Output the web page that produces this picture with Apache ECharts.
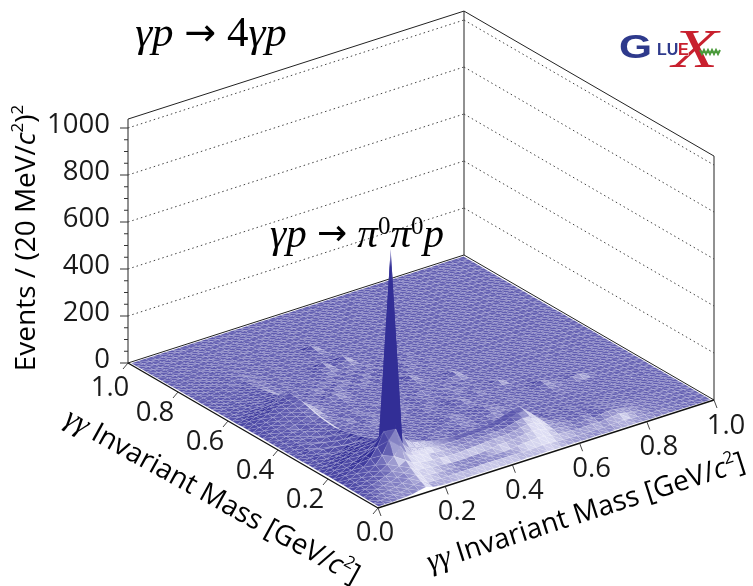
<!DOCTYPE html>
<html><head><meta charset="utf-8">
<style>html,body{margin:0;padding:0;background:#fff}#c{width:753px;height:586px}</style>
<script src="https://cdn.jsdelivr.net/npm/echarts@6/dist/echarts.min.js"></script></head>
<body><div id="c"></div>
<script>
// Event counts per cell: rows run along the first mass (0 -> 1), columns along the second.
const counts=[
[0,1,1,2,3,6,12,18,9,5,3,3,2,2,3,2,2,3,2,2,2,2,3,2,2,3,2,2,2,2,2,1,2,2,1,2,1,1,2,1,1,1,1,1,1,1,0,1,0,0],
[1,4,6,9,11,16,24,30,16,14,14,14,15,15,16,16,17,17,16,16,16,15,15,15,16,18,17,14,12,11,10,10,9,10,9,11,12,13,10,9,8,6,7,5,4,3,3,2,2,1],
[1,8,12,16,20,28,38,44,30,28,25,24,23,22,22,22,23,23,23,23,24,25,29,32,34,36,33,27,24,22,19,18,19,20,18,22,24,27,21,16,12,10,9,7,6,5,4,3,2,1],
[2,11,18,24,30,40,50,62,44,42,38,34,32,28,28,28,29,30,33,36,40,40,42,46,50,52,50,40,32,29,24,22,24,26,24,30,34,32,26,20,15,12,10,8,7,5,4,3,3,1],
[2,14,24,32,42,54,66,82,62,56,50,46,46,42,42,42,44,46,48,50,52,52,54,58,64,68,66,52,38,32,28,26,28,30,28,32,34,30,24,20,16,13,10,9,7,6,4,3,2,1],
[3,16,28,38,52,70,96,128,84,72,66,60,56,54,52,52,52,54,55,58,60,60,62,68,76,82,82,62,42,34,30,28,28,30,28,30,28,26,22,18,16,12,11,9,8,6,5,3,3,2],
[3,18,30,44,64,96,150,190,118,92,84,76,70,64,60,58,58,60,60,62,64,62,66,72,82,90,92,70,40,30,28,26,26,28,24,24,22,22,20,18,14,12,10,9,7,6,4,3,2,1],
[4,20,34,52,80,120,176,944,182,118,96,88,80,72,66,62,60,60,60,60,60,62,66,74,84,92,96,66,30,24,26,26,24,26,22,20,20,18,16,15,13,10,9,8,7,5,4,3,2,1],
[4,22,36,56,78,102,128,178,110,56,40,34,30,28,26,24,26,24,22,24,26,24,28,30,36,40,40,26,20,18,20,18,16,18,16,16,14,15,14,12,11,9,8,7,5,5,4,3,2,1],
[4,20,34,50,66,82,100,116,62,34,27,25,28,25,20,24,28,24,20,24,28,24,20,23,28,23,19,22,25,20,18,18,17,16,15,15,14,13,12,11,10,8,8,6,6,4,4,3,2,1],
[4,20,36,52,66,80,92,100,56,32,29,27,25,22,24,28,24,21,23,27,25,22,23,27,24,21,23,25,21,20,18,17,17,16,16,14,14,13,12,11,9,9,7,7,5,5,3,3,2,1],
[4,18,30,44,58,72,84,90,48,30,26,25,27,25,24,25,24,25,24,25,28,27,24,24,25,29,26,23,21,20,18,18,16,15,16,15,13,12,11,10,9,8,8,6,6,4,3,3,2,1],
[3,14,26,38,50,62,72,80,40,28,26,26,24,27,25,24,26,24,27,30,31,28,25,25,28,32,29,24,22,20,18,17,16,16,14,16,14,12,11,10,8,8,7,6,5,5,3,3,2,1],
[3,12,22,32,36,54,54,72,36,27,25,24,26,25,24,26,25,25,28,31,34,30,24,25,30,34,28,22,22,21,17,17,15,15,16,18,15,12,10,10,9,8,7,6,5,4,3,3,2,1],
[3,12,24,24,42,38,60,66,32,26,26,25,25,24,26,25,24,26,24,26,26,24,25,24,25,26,23,22,20,20,18,16,16,15,19,23,17,12,12,16,19,11,7,6,5,4,3,2,2,1],
[3,10,18,28,28,46,42,60,30,26,24,26,24,26,24,26,25,24,25,24,24,25,24,27,30,25,23,21,21,19,17,16,16,14,18,26,16,12,10,11,13,8,7,5,5,4,3,3,2,1],
[2,10,22,20,36,30,50,55,28,25,25,24,25,26,25,24,25,24,24,25,24,23,24,30,33,24,23,22,19,19,17,16,16,14,13,14,12,11,10,9,8,7,6,5,4,4,3,2,2,1],
[2,8,16,26,24,38,38,50,26,26,24,28,23,20,24,29,24,20,23,28,25,20,23,28,25,20,22,25,20,18,18,19,15,14,13,13,12,11,9,9,8,7,6,5,5,3,3,3,2,1],
[2,8,18,18,30,28,42,46,24,24,24,24,26,24,24,25,24,23,25,24,23,24,24,24,22,23,21,20,19,19,20,27,16,14,13,12,11,10,9,8,7,7,5,5,4,4,3,2,2,1],
[2,8,16,22,24,36,40,48,24,25,23,20,24,28,24,20,24,29,23,20,24,27,23,19,24,27,22,19,21,18,17,16,15,14,13,12,11,10,9,8,8,6,6,4,5,3,3,2,2,1],
[2,10,18,22,32,36,46,50,26,24,26,22,28,24,20,23,28,24,20,22,27,24,20,24,28,21,19,23,18,17,16,15,14,13,12,11,10,9,9,8,6,6,5,5,4,3,3,2,2,1],
[2,10,18,26,28,42,46,54,28,25,22,26,24,20,23,28,22,20,25,23,20,24,27,24,20,23,21,18,20,17,15,15,13,13,12,10,10,9,8,8,7,5,6,4,4,3,3,2,1,1],
[3,12,20,28,36,44,54,58,30,24,23,23,24,24,25,23,23,24,22,23,22,23,23,22,24,22,20,24,26,16,15,14,13,12,11,10,9,9,8,7,6,6,4,5,3,3,3,2,2,1],
[3,14,24,32,40,50,58,66,34,25,24,23,24,23,24,23,23,22,23,24,23,22,23,26,24,21,21,22,29,16,14,14,12,11,11,9,9,8,8,7,5,6,5,4,4,3,2,2,1,1],
[3,14,26,36,46,54,64,72,40,28,24,23,23,26,23,22,23,23,22,22,23,22,26,30,22,20,20,18,18,15,14,13,12,11,10,9,8,8,7,7,6,4,5,4,3,3,2,2,2,1],
[3,16,28,40,50,60,70,78,44,30,24,24,25,28,24,22,23,22,23,22,22,23,22,33,22,20,20,18,16,15,13,13,11,11,10,9,8,7,7,6,5,5,4,4,3,3,2,2,1,1],
[3,16,30,42,54,62,72,80,44,28,24,26,30,33,26,22,22,22,21,22,21,21,21,21,20,19,18,18,15,14,13,12,11,10,9,9,8,7,6,5,6,4,4,3,3,2,2,2,1,1],
[3,16,28,38,50,60,72,82,38,24,23,19,24,27,22,18,23,26,22,18,23,25,20,17,22,20,15,17,14,13,12,11,10,10,8,8,7,6,6,5,4,5,3,4,3,2,2,1,1,1],
[2,12,22,30,38,44,54,60,30,22,20,23,20,18,23,25,20,18,23,21,17,21,23,18,17,20,15,12,14,11,11,10,9,8,8,7,7,6,5,5,4,3,4,3,2,2,2,1,1,1],
[2,10,16,24,28,34,42,48,26,21,18,22,24,20,18,22,24,18,19,23,18,17,21,17,14,18,15,11,13,10,10,9,9,7,7,6,6,4,5,4,4,3,3,2,2,2,1,1,1,1],
[2,8,14,20,26,28,34,40,22,20,22,19,17,21,23,18,16,21,19,15,20,18,14,18,16,12,14,13,10,10,9,8,8,7,6,6,4,5,4,4,3,3,2,2,2,2,1,1,1,1],
[2,6,14,16,22,26,30,36,22,18,18,16,20,18,15,20,18,14,19,17,14,18,14,14,17,12,11,13,9,9,8,8,6,6,6,4,5,4,3,3,3,2,3,2,2,1,1,1,1,0],
[2,6,10,16,18,22,28,32,20,19,17,16,18,16,17,18,20,20,16,17,20,16,15,13,14,12,11,10,9,8,7,6,6,5,4,5,3,4,3,3,2,3,2,2,1,1,1,1,1,0],
[1,5,9,12,18,20,24,28,21,16,18,15,16,16,15,16,22,24,17,22,25,15,13,13,11,12,10,9,8,7,6,6,4,5,4,3,4,3,3,2,2,2,2,1,1,1,1,1,0,0],
[1,5,8,14,14,18,22,24,18,16,15,16,14,15,15,14,20,30,15,20,31,14,12,11,11,10,9,7,7,6,5,5,5,3,4,3,3,2,3,2,2,2,1,1,1,1,1,0,1,0],
[1,4,8,10,16,14,20,22,20,14,15,13,14,13,13,14,13,14,13,13,14,12,11,11,9,9,7,7,6,5,4,5,3,4,3,3,2,3,2,2,1,2,1,1,1,1,0,1,0,0],
[1,4,7,12,12,18,14,20,14,15,12,13,12,13,11,12,12,11,12,12,11,11,10,9,9,7,7,6,5,4,4,3,4,3,3,2,3,2,2,1,2,1,1,1,1,0,1,0,0,0],
[1,4,6,8,14,14,18,16,18,11,12,11,12,10,12,10,11,11,12,14,10,10,9,8,7,7,5,5,4,4,3,4,2,3,2,2,2,2,1,2,1,1,1,1,0,1,0,0,0,0],
[1,3,6,10,9,12,14,16,12,13,10,11,10,10,9,10,9,10,13,17,9,9,7,7,6,5,5,4,4,3,3,2,3,2,2,2,1,2,1,1,1,1,1,0,1,0,0,0,0,0],
[1,3,5,6,10,10,12,12,13,9,10,9,9,8,9,8,9,8,9,22,8,7,6,6,5,5,4,4,3,3,2,3,2,2,2,1,2,1,1,1,1,1,0,1,0,0,0,0,0,0],
[1,3,4,7,6,9,10,11,8,10,6,8,6,8,5,7,5,6,4,5,6,4,5,3,4,3,4,2,3,2,2,2,2,2,1,1,1,1,1,1,0,1,0,0,0,0,0,0,0,0],
[1,2,4,4,7,6,8,8,9,6,8,5,6,4,6,4,5,4,5,3,4,4,3,4,2,3,2,3,2,2,2,1,2,1,1,1,1,1,1,0,1,0,0,0,0,0,0,0,0,0],
[0,2,3,5,4,7,5,7,5,7,4,6,4,5,4,4,3,4,3,3,4,2,3,2,3,2,2,2,1,2,1,1,1,1,1,1,0,1,0,0,0,0,0,0,0,0,0,0,0,0],
[0,2,3,3,5,4,6,5,6,4,5,4,5,3,4,3,4,3,3,4,2,3,3,2,3,2,2,1,2,1,2,1,1,2,1,1,1,0,1,0,1,0,1,0,0,1,0,0,0,0],
[0,1,2,4,3,5,4,5,4,5,3,4,3,4,3,4,2,3,3,2,3,2,2,3,1,2,2,1,1,2,1,1,2,0,1,1,0,1,0,1,0,1,0,0,1,0,0,0,0,0],
[0,1,2,2,3,3,4,3,4,3,4,2,3,3,2,3,3,2,2,3,1,2,2,1,2,1,1,2,1,1,1,2,0,1,1,0,1,0,1,0,1,0,0,1,0,0,0,0,0,0],
[0,1,1,2,2,3,2,3,3,2,3,3,2,2,3,2,2,2,1,2,2,1,1,2,1,2,1,1,1,0,1,1,1,0,1,1,0,1,0,0,0,1,0,0,0,0,1,0,0,0],
[0,1,1,1,2,2,2,2,2,3,2,2,2,1,2,2,1,2,2,1,1,2,1,1,1,1,1,0,1,1,0,1,1,1,0,0,1,0,0,1,0,0,0,1,0,0,0,0,0,0],
[0,0,1,1,1,1,2,1,2,1,1,2,1,1,1,1,2,1,1,1,1,1,1,0,1,1,0,1,0,1,1,0,0,1,0,1,0,0,1,0,0,0,1,0,0,0,0,0,0,0],
[0,0,0,0,0,0,0,0,0,0,0,0,0,0,0,0,0,0,0,0,0,0,0,0,0,0,0,0,0,0,0,0,0,0,0,0,0,0,0,0,0,0,0,0,0,0,0,0,0,0]
];
const massTicks=[0,0.2,0.4,0.6,0.8,1.0];
const massLabels=['0.0','0.2','0.4','0.6','0.8','1.0'];
const zMajor=[0,200,400,600,800,1000];
const zMinor=[50,100,150,250,300,350,450,500,550,650,700,750,850,900,950];
const zMax=1038;

const FONT='"Open Sans"';
// oblique view of the box: plot units per mass unit / per event
const O=[378,508], EX=[336,-108], EY=[-250,-145], EZ=-0.235;
const P=(x,y,z)=>[O[0]+x*EX[0]+y*EY[0], O[1]+x*EX[1]+y*EY[1]+z*EZ];
const N=counts.length, M=counts[0].length;
const inset=v=>0.006+0.988*v;

const C0=[96,92,176], CL=[228,228,247], CD=[50,46,150];
const mix=(a,b,t)=>a.map((v,k)=>Math.round(v+(b[k]-v)*t));
const rgb=c=>`rgb(${c[0]},${c[1]},${c[2]})`;
function shade(gx,gy){
  const mag=Math.hypot(gx,gy);
  const s0=0.06*gy-0.035*gx;
  const s=Math.sign(s0)*Math.pow(Math.abs(s0),1.15)*Math.exp(-Math.pow(mag/70,2));
  let c=s>0?mix(C0,CL,Math.min(1,s)):mix(C0,CD,Math.min(1,-s));
  return mix(c,CD,1-Math.exp(-Math.pow(mag/90,2)));
}
// two facets per cell, back facet first: [i, j, facet]
const cells=[];
for(let j=N-2;j>=0;j--)for(let i=M-2;i>=0;i--){cells.push([i,j,0]);cells.push([i,j,1]);}

function renderCell(params,api){
  const [i,j,f]=cells[params.dataIndex];
  const a=counts[j][i],b=counts[j][i+1],c=counts[j+1][i+1],d=counts[j+1][i];
  const gx=f===0?c-d:b-a, gy=f===0?c-b:d-a;
  const col=shade(gx,gy);
  const pt=(ii,jj,z)=>api.coord(P(inset(ii/(M-1)),inset(jj/(N-1)),z));
  const pts=f===0?[pt(i+1,j,b),pt(i+1,j+1,c),pt(i,j+1,d)]:[pt(i,j,a),pt(i+1,j,b),pt(i,j+1,d)];
  const top=f===0?Math.max(b,c,d):Math.max(a,b,d);
  const fill=top>600?new echarts.graphic.LinearGradient(0,0,0,1,[{offset:0,color:'rgb(190,188,225)'},{offset:0.1,color:rgb(col)},{offset:1,color:rgb(col)}]):rgb(col);
  const mesh=top>600?'rgba(0,0,0,0)':'rgba(255,255,255,0.14)';
  return {type:'polygon',shape:{points:pts},style:{fill:fill,stroke:mesh,lineWidth:0.8}};
}

// box lines, grid lines and ticks
const corner={F:[0,0],R:[1,0],B:[1,1],L:[0,1]};
const seg=[];
const add=(p,q,kind)=>seg.push({p,q,kind});
const C=(n,z)=>P(corner[n][0],corner[n][1],z);
add(C('L',0),C('L',zMax),'solid');
add(C('B',0),C('B',zMax),'solid');
add(C('R',0),C('R',zMax),'solid');
add(C('L',zMax),C('B',zMax),'solid');
add(C('B',zMax),C('R',zMax),'solid');
add(C('L',0),C('B',0),'solid');
add(C('B',0),C('R',0),'solid');
add(C('L',0),C('F',0),'front');
add(C('F',0),C('R',0),'front');
zMajor.slice(1).forEach(z=>{add(C('L',z),C('B',z),'dot');add(C('B',z),C('R',z),'dot');});
zMajor.forEach(z=>{const p=C('L',z);add(p,[p[0]-8,p[1]],'tick');});
zMinor.forEach(z=>{const p=C('L',z);add(p,[p[0]-4,p[1]],'tick');});
massTicks.forEach(v=>{
  const a=P(v,0,0);add(a,[a[0]+3,a[1]+8],'front1');
  const b=P(0,v,0);add(b,[b[0]-5,b[1]+6],'front1');
});
const segStyle={
  solid:{stroke:'#222',lineWidth:1},
  front:{stroke:'#111',lineWidth:1.4},
  front1:{stroke:'#333',lineWidth:0.9},
  tick:{stroke:'#333',lineWidth:1},
  dot:{stroke:'#444',lineWidth:1,lineDash:[1.5,3]}
};
function renderSeg(params,api){
  const s=seg[params.dataIndex];
  const a=api.coord(s.p),b=api.coord(s.q);
  return {type:'line',shape:{x1:a[0],y1:a[1],x2:b[0],y2:b[1]},style:Object.assign({fill:null},segStyle[s.kind])};
}

// tick labels
const tickText=[];
massLabels.forEach((t,k)=>{
  const a=P(massTicks[k],0,0);
  tickText.push({t,x:a[0]+(k===0?-3:12),y:a[1]+(k===0?25:26),al:'center'});
  if(k>0){const b=P(0,massTicks[k],0);tickText.push({t,x:b[0]+(k===5?-18:-23),y:b[1]+(k===5?25:21),al:'center'});}
});
zMajor.forEach(z=>{const p=C('L',z);tickText.push({t:String(z),x:110,y:p[1]-3,al:'right'});});
function renderTick(params,api){
  const s=tickText[params.dataIndex];
  const p=api.coord([s.x,s.y]);
  return {type:'text',x:p[0],y:p[1],style:{text:s.t,fill:'#1a1a1a',font:'27.5px '+FONT,align:s.al,verticalAlign:'middle'}};
}

// rich text labels
const titleRich=sz=>({
  n:{fontSize:sz,fontFamily:FONT,color:'#1a1a1a'},
  g:{fontSize:sz+2,fontFamily:'"Liberation Serif"',fontStyle:'italic',color:'#1a1a1a'},
  i:{fontSize:sz,fontFamily:FONT,fontStyle:'italic',color:'#1a1a1a'},
  s:{fontSize:Math.round(sz*0.62),fontFamily:FONT,color:'#1a1a1a',verticalAlign:'top',lineHeight:Math.round(sz*1.2)}
});
const mathRich=sz=>({
  n:{fontSize:sz,fontFamily:'"Liberation Serif"',color:'#111'},
  a:{fontSize:sz-5,fontFamily:'"DejaVu Sans"',color:'#111'},
  i:{fontSize:sz,fontFamily:'"Liberation Serif"',fontStyle:'italic',color:'#111'},
  s:{fontSize:Math.round(sz*0.6),fontFamily:'"Liberation Serif"',color:'#111',verticalAlign:'top',lineHeight:Math.round(sz*1.05)}
});
const massTitle='{g|γγ}{n| Invariant Mass [GeV/}{i|c}{s|2}{n|]}';
const richLabels=[
 {text:massTitle,x:586,y:513,rot:0.311,rich:titleRich(28)},
 {text:massTitle,x:212,y:497,rot:-0.505,rich:titleRich(28)},
 {text:'{n|Events / (20 MeV/}{i|c}{s|2}{n|)}{s|2}',x:27,y:238,rot:Math.PI/2,rich:titleRich(28)},
 {text:'{i|γp}{n| }{a|→}{n| 4}{i|γp}',x:211,y:35,rot:0,rich:mathRich(43)},
 {text:'{i|γp}{n| }{a|→}{n| }{i|π}{s|0}{i|π}{s|0}{i|p}',x:357,y:236,rot:0,rich:mathRich(41)}
];
function renderRich(params,api){
  const s=richLabels[params.dataIndex];
  const p=api.coord([s.x,s.y]);
  return {type:'text',x:p[0],y:p[1],rotation:s.rot,style:{text:s.text,rich:s.rich,align:'center',verticalAlign:'middle'}};
}

const base={type:'custom',coordinateSystem:'cartesian2d',silent:true,clip:false,animation:false,progressive:0};
const chart=echarts.init(document.getElementById('c'),null,{renderer:'canvas',width:753,height:586});
chart.setOption({
  animation:false,
  backgroundColor:'#fff',
  grid:{left:0,right:0,top:0,bottom:0},
  xAxis:{type:'value',min:0,max:753,show:false},
  yAxis:{type:'value',min:0,max:586,inverse:true,show:false},
  tooltip:{show:false},
  graphic:[
    {type:'text',x:619,y:49,scaleX:1.25,style:{text:'G',font:'bold 34px "Liberation Sans"',fill:'#2e3a8c',verticalAlign:'middle'}},
    {type:'text',x:657,y:51,style:{text:'LU',font:'bold 16px "Liberation Sans"',fill:'#2e3a8c',verticalAlign:'middle'}},
    {type:'text',x:672,y:53,scaleX:1.4,style:{text:'X',font:'italic 54px "Liberation Serif"',fill:'#c8202e',verticalAlign:'middle'}},
    {type:'text',x:678,y:51,style:{text:'E',font:'bold 16px "Liberation Sans"',fill:'#c8202e',stroke:'#fff',lineWidth:1,verticalAlign:'middle'}},
    {type:'polyline',shape:{points:[[700,50],[702,54],[704,50],[706,54],[708,50],[710,54],[712,50],[714,54],[716,50],[718,54],[720,50]]},style:{stroke:'#4a9a3a',lineWidth:2,fill:null}}
  ],
  series:[
    Object.assign({},base,{name:'walls',data:seg.map((s,k)=>[k]).filter(d=>seg[d[0]].kind!=='front'&&seg[d[0]].kind!=='front1'),renderItem:(p,a)=>{const idx=a.value(0);return renderSeg({dataIndex:idx},a);},encode:{x:0,y:0},z:1}),
    Object.assign({},base,{name:'surface',data:cells.map((c,k)=>[k]),renderItem:renderCell,encode:{x:0,y:0},z:2}),
    Object.assign({},base,{name:'front',data:seg.map((s,k)=>[k]).filter(d=>seg[d[0]].kind==='front'||seg[d[0]].kind==='front1'),renderItem:(p,a)=>{const idx=a.value(0);return renderSeg({dataIndex:idx},a);},encode:{x:0,y:0},z:3}),
    Object.assign({},base,{name:'ticks',data:tickText.map((c,k)=>[k]),renderItem:renderTick,encode:{x:0,y:0},z:4}),
    Object.assign({},base,{name:'titles',data:richLabels.map((c,k)=>[k]),renderItem:renderRich,encode:{x:0,y:0},z:5})
  ]
});
</script></body></html>
